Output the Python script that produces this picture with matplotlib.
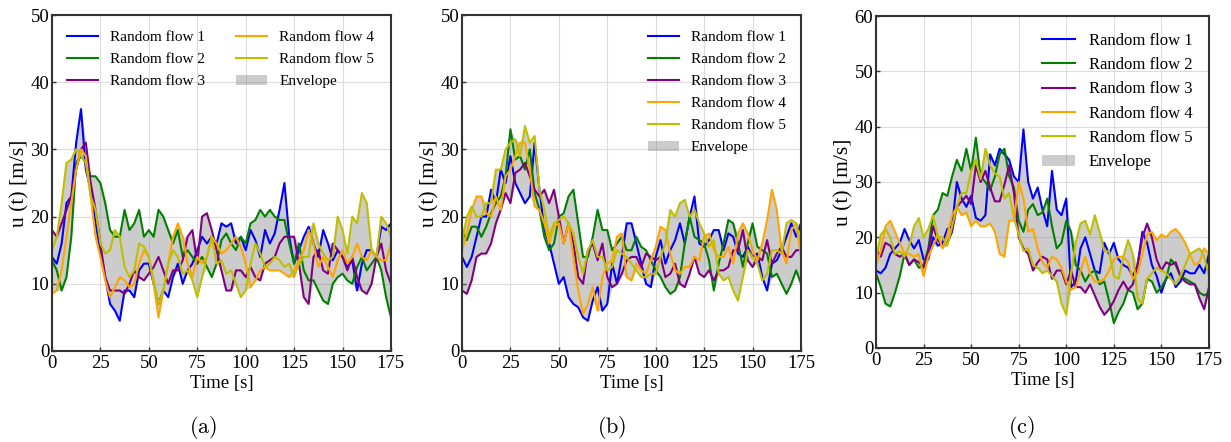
import numpy as np
import matplotlib
matplotlib.use("Agg")
import matplotlib.pyplot as plt

plt.rcParams['font.family'] = ['Liberation Serif', 'DejaVu Serif']
plt.rcParams['mathtext.fontset'] = 'cm'

# time axis, one sample every 2.5 s
t = np.arange(0, 175.01, 2.5)

# ---- case (a) ----
a_flow1 = [14, 13, 16, 22, 23, 31, 36, 27, 24, 19,
           15, 11, 7, 6, 4.5, 9, 9, 8, 12, 13,
           13, 10, 7, 9, 8, 11, 13, 10, 12, 13,
           15, 17, 16, 17, 16, 19, 18.5, 19, 16, 17,
           15, 18, 16.5, 14, 18, 16, 17.5, 21, 25, 17,
           13, 15, 17, 18.5, 16, 14, 18, 16, 13.5, 15,
           14, 12.5, 13.5, 9, 13, 15, 15, 14, 18.5, 18,
           19]
a_flow2 = [13.5, 12, 9, 11, 17, 28, 29, 28, 26, 26,
           25, 22, 18, 17, 17, 21, 18, 19, 21, 17,
           18, 17, 21, 20, 18, 16, 18, 14, 15, 14,
           13, 14, 12.5, 11, 13, 16.5, 17.5, 16, 15, 17,
           16, 19, 19.5, 21, 20, 21, 20, 19.5, 19.5, 16,
           13, 16, 12, 10.5, 10.5, 9, 7.5, 7, 10, 11,
           11.5, 10.5, 10, 12.5, 14, 12, 13, 14, 12, 8,
           5]
a_flow3 = [18, 17, 19, 21, 23, 27, 30, 31, 25, 21,
           16, 11, 9, 9, 9, 8.5, 10, 12, 11, 10.5,
           11.5, 12.5, 14, 12, 10, 12, 12, 13.5, 17, 18,
           13, 20, 20.5, 18, 15, 12, 9, 9, 12, 12,
           11, 12.5, 11, 10.5, 13, 13.5, 14, 16, 17, 17,
           17, 13, 8, 7, 14, 15, 12, 11.5, 16, 15,
           14, 12, 14, 11, 9, 8.5, 10, 14, 16, 12,
           10]
a_flow4 = [8.5, 9, 12, 17, 22, 27, 30, 29, 23, 17,
           14, 10.5, 8, 9.5, 11, 10.5, 9.5, 10, 13, 15,
           14, 10, 5, 9, 13, 17, 19, 17, 13, 11,
           14, 13, 14, 17, 16, 14.5, 15, 16, 17, 15.5,
           13, 9.5, 10.5, 12, 12.5, 12, 12, 12, 11.5, 11,
           12, 13.5, 15, 18, 16, 12.5, 14, 12.5, 11, 13.5,
           15, 13, 14, 16, 14, 13.5, 15, 14, 13.5, 13.5,
           16]
a_flow5 = [15, 17, 22, 28, 28.5, 30, 29, 28, 23, 21,
           16, 14.5, 15, 18, 17, 12.5, 11, 12, 16, 15.5,
           14, 10.5, 7, 9, 13, 15, 14, 11.5, 12, 10.5,
           8, 11, 14, 17, 13, 13.5, 11.5, 12, 10, 8,
           9, 13, 16, 14.5, 12.5, 13, 14, 13.5, 12.5, 13,
           11, 13, 14, 14, 19, 16, 14.5, 13.5, 14, 20,
           18, 14.5, 20, 19, 23.5, 22, 15, 14, 20, 19,
           17]

# ---- case (b) ----
b_flow1 = [14, 12.5, 14, 17, 20, 20, 24, 22, 27, 25,
           29, 25, 23.5, 22, 23, 31, 24, 18, 16, 13,
           10, 11, 8, 7, 6.5, 5, 4.5, 7.5, 9.5, 6,
           7, 13, 10, 14, 19, 19, 16, 13, 10, 9.5,
           14, 16.5, 13, 15, 16.5, 19, 16, 20, 23, 16,
           15.5, 16.5, 18, 18, 15, 17.5, 17, 14.5, 14, 15.5,
           14, 14.5, 11, 9, 13, 13.5, 15, 17, 19, 17,
           19]
b_flow2 = [18, 16.5, 18.5, 18.5, 17, 18.5, 20.5, 22, 23, 26,
           33, 28.5, 29, 27, 30, 23.5, 21, 17, 15, 16,
           20, 20.5, 23, 24, 19, 14, 14, 17, 21, 18,
           18, 15, 16, 17, 15, 15, 17, 15.5, 15, 13.5,
           12, 11, 9.5, 8.5, 9, 11, 16, 20, 17, 16.5,
           16, 13.5, 9, 13, 16, 19.5, 19, 16, 12.5, 16,
           19, 15.5, 15, 14.5, 11, 11.5, 10, 8.5, 10, 12,
           10]
b_flow3 = [9, 8.5, 10.5, 14, 14.5, 14.5, 16, 19, 21, 23.5,
           22, 26.5, 27, 28, 26, 24, 23, 24, 22, 24,
           20, 16, 19, 16, 11, 10, 15, 16, 13.5, 16,
           11, 9.5, 10, 11.5, 13.5, 14, 14, 12.5, 14.5, 14,
           13.5, 14, 11, 11.5, 13, 10, 9.5, 11.5, 14, 11.5,
           11, 12, 10.5, 12, 12, 12.5, 15, 15, 18, 13.5,
           12.5, 14, 13.5, 16.5, 13, 14.5, 15.5, 14, 14, 15,
           15]
b_flow4 = [15, 17.5, 21, 23, 23, 20.5, 20, 23, 21, 26,
           27, 29, 31, 31, 27, 21.5, 21, 19, 16, 18.5,
           19, 16, 19, 14, 9, 5.5, 7, 9.5, 6, 11,
           13, 13.5, 17, 17.5, 11, 10.5, 13, 12, 11.5, 13.5,
           15.5, 18.5, 18, 14.5, 12, 11.5, 12.5, 12.5, 14, 13.5,
           17, 17.5, 15, 14, 14, 15.5, 13, 17.5, 19, 17.5,
           15, 13.5, 16, 19.5, 24, 21, 15, 13, 18, 19,
           14]
b_flow5 = [16, 20, 21.5, 20, 20, 22, 22, 27, 27, 30,
           31, 31.5, 29, 33.5, 31, 32, 24, 21, 17, 19,
           19.5, 20, 19, 17.5, 14, 11.5, 15, 16.5, 14, 14,
           12, 12.5, 15, 14.5, 14, 13, 12, 11, 11, 11.5,
           11.5, 14, 16, 21, 20, 22, 22.5, 20, 21, 19,
           17.5, 15.5, 16.5, 11.5, 10.5, 11, 9, 7.5, 11, 15,
           14, 13, 10.5, 11.5, 15, 15, 14.5, 19, 19.5, 19,
           16]

# ---- case (c) ----
c_flow1 = [14, 13.5, 14.5, 17, 18, 19, 21.5, 19.5, 18, 19.5,
           16, 16, 20, 18.5, 19, 21.5, 22, 30, 27, 25.5,
           27.5, 23.5, 23, 24, 35, 33, 36, 35, 34, 31,
           30, 39.5, 30, 27, 29, 25, 22, 32, 25, 24,
           27, 11, 12, 18, 20, 17, 14, 13.5, 19, 17,
           19, 16, 15, 14.5, 13, 15, 21, 19, 15, 13,
           10, 12.5, 13.5, 11, 12, 14, 13.5, 13.5, 15, 13.5,
           17]
c_flow2 = [13.5, 11, 8, 7.5, 10, 13, 17, 15, 16, 14.5,
           15, 18, 24, 25, 28, 27.5, 31, 34, 32, 36,
           32, 38, 31, 30, 28.5, 31, 35, 36, 31, 29,
           23, 21, 25, 26, 24, 24.5, 27, 22, 18, 19,
           23, 21, 15, 14, 12, 13.5, 14, 11.5, 12, 8.5,
           4.5, 6.5, 8, 10.5, 10, 7, 8, 12.5, 12, 10,
           11, 12.5, 16, 15, 13, 12.5, 12, 11.5, 10, 9.5,
           10]
c_flow3 = [18, 16.5, 19, 18.5, 17, 16.5, 17, 15, 16, 15.5,
           14.5, 17.5, 22, 19.5, 18.5, 19, 21, 25.5, 26.5, 27.5,
           26, 33, 30, 32, 29, 26.5, 26.5, 29.5, 33, 28,
           20, 18, 17, 14, 15.5, 16.5, 16, 12.5, 14, 14,
           11.5, 14, 11, 11, 10, 11.5, 9.5, 7.5, 6, 7,
           8.5, 10.5, 12, 10.5, 11.5, 15, 20, 22.5, 20, 16,
           14, 15.5, 15, 15.5, 13, 12, 11.5, 11.5, 9, 7,
           11]
c_flow4 = [15, 17.5, 22, 23, 21, 19, 17, 17, 16.5, 17,
           13, 16.5, 18.5, 20.5, 18, 20.5, 24, 25.5, 24, 24.5,
           22, 23, 22, 22, 22.5, 21, 17, 16.5, 23, 23,
           30, 27, 21, 21.5, 18, 15.5, 14.5, 16.5, 16, 14.5,
           12, 10.5, 11, 14, 16.5, 13.5, 12, 12, 12.5, 14,
           16, 16.5, 16.5, 15.5, 12.5, 13.5, 17, 20.5, 21, 19.5,
           20.5, 20, 21, 21.5, 20.5, 19, 17, 15, 15.5, 18,
           17]
c_flow5 = [16, 20.5, 21.5, 20, 17, 17.5, 16.5, 18.5, 22, 23.5,
           20, 21.5, 24, 20, 20, 18.5, 22, 25.5, 28, 28,
           32, 34, 30.5, 36, 33, 31.5, 31, 27, 28, 23.5,
           20.5, 17.5, 18, 15, 14.5, 13.5, 14, 13, 12, 8,
           6, 13.5, 19, 22.5, 23, 20.5, 24, 21, 17.5, 17.5,
           13, 12.5, 16.5, 19.5, 17, 9, 8, 12.5, 13.5, 14.5,
           14, 13.5, 12.5, 11.5, 13, 15, 17, 17.5, 18, 16.5,
           13]

flow_labels = ['Random flow 1', 'Random flow 2', 'Random flow 3',
               'Random flow 4', 'Random flow 5']
flow_colors = ['#0000ff', '#008000', '#800080', '#ffa500', '#bfbf00']
panel_tags = ['(a)', '(b)', '(c)']


def draw_panel(ax, flows, ymax, legend_kw):
    data = np.array(flows)
    ax.fill_between(t, data.min(axis=0), data.max(axis=0), color='gray',
                    alpha=0.4, linewidth=0, label='Envelope', zorder=1)
    for series, lab, col in zip(flows, flow_labels, flow_colors):
        ax.plot(t, series, color=col, lw=1.5, label=lab, zorder=2)

    ax.set_xlim(0, 175)
    ax.set_ylim(0, ymax)
    ax.set_xticks(np.arange(0, 176, 25))
    ax.set_yticks(np.arange(0, ymax + 1, 10))
    ax.grid(True, color='#dcdcdc', lw=0.8)
    ax.set_axisbelow(True)
    ax.tick_params(direction='in', length=3, width=1, color='#333333',
                   labelsize=13.5, pad=2)
    ax.tick_params(axis='x', pad=3)
    for sp in ax.spines.values():
        sp.set_linewidth(1.5)
        sp.set_color('#333333')
    ax.set_xlabel('Time [s]', fontsize=13.5, labelpad=2)
    ax.set_ylabel('u (t) [m/s]', fontsize=15.5, labelpad=1)

    handles, labels = ax.get_legend_handles_labels()
    # envelope patch goes last in the legend
    handles = handles[1:] + handles[:1]
    labels = labels[1:] + labels[:1]
    ax.legend(handles, labels, frameon=False, **legend_kw)


fig = plt.figure(figsize=(12.31, 4.42), dpi=100)
ax_a = fig.add_axes([0.0422, 0.2059, 0.2754, 0.7601])
ax_b = fig.add_axes([0.3753, 0.2059, 0.2754, 0.7601])
ax_c = fig.add_axes([0.7116, 0.2127, 0.2705, 0.7511])

draw_panel(ax_a, [a_flow1, a_flow2, a_flow3, a_flow4, a_flow5], 50,
           dict(loc='upper left', ncol=2, fontsize=11, columnspacing=2.05,
                labelspacing=0.55, borderaxespad=0.6))
draw_panel(ax_b, [b_flow1, b_flow2, b_flow3, b_flow4, b_flow5], 50,
           dict(loc='upper right', fontsize=11, labelspacing=0.55,
                borderaxespad=0.6))
draw_panel(ax_c, [c_flow1, c_flow2, c_flow3, c_flow4, c_flow5], 60,
           dict(loc='upper right', fontsize=12, labelspacing=0.5,
                borderaxespad=0.6))

for x, tag in zip([0.165, 0.497, 0.830], panel_tags):
    fig.text(x, 0.02, r'$\mathrm{' + tag + '}$', ha='center', fontsize=16)

fig.savefig('out.png', dpi=100)
